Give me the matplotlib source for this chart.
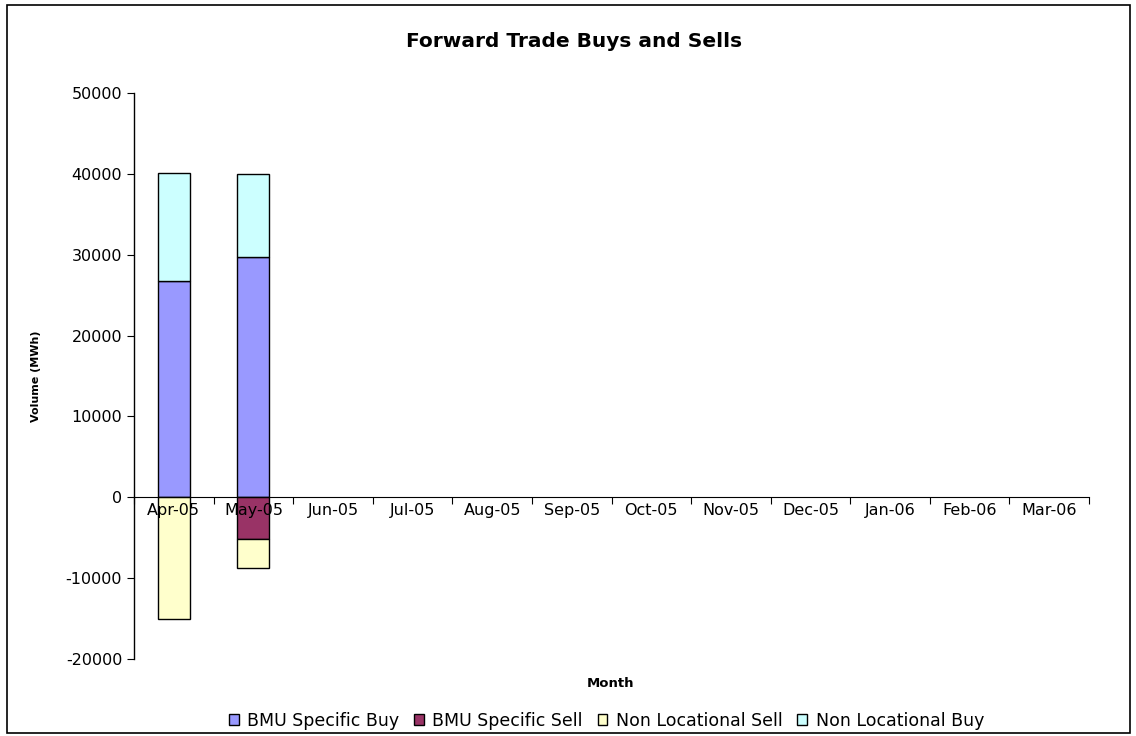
import numpy as np
import matplotlib.pyplot as plt
from matplotlib.patches import Rectangle

plt.rcParams['font.family'] = ['DejaVu Sans']
plt.rcParams['axes.unicode_minus'] = False

months = ['Apr-05', 'May-05', 'Jun-05', 'Jul-05', 'Aug-05', 'Sep-05',
          'Oct-05', 'Nov-05', 'Dec-05', 'Jan-06', 'Feb-06', 'Mar-06']
bmu_buy = [26700, 29700, 0, 0, 0, 0, 0, 0, 0, 0, 0, 0]
bmu_sell = [0, -5200, 0, 0, 0, 0, 0, 0, 0, 0, 0, 0]
nl_sell = [-15000, -3600, 0, 0, 0, 0, 0, 0, 0, 0, 0, 0]
nl_buy = [13400, 10300, 0, 0, 0, 0, 0, 0, 0, 0, 0, 0]

fig = plt.figure(figsize=(11.36, 7.36), dpi=100)
ax = fig.add_axes([0.118, 0.1046, 0.8406, 0.769])

x = np.arange(len(months))
w = 0.4
kw = dict(width=w, edgecolor='black', linewidth=1)
show = np.array(bmu_buy) != 0
ax.bar(x[show], np.array(bmu_buy)[show], color='#9999FF', label='BMU Specific Buy', **kw)
show = np.array(bmu_sell) != 0
ax.bar(x[show], np.array(bmu_sell)[show], color='#993366', label='BMU Specific Sell', **kw)
show = np.array(nl_sell) != 0
ax.bar(x[show], np.array(nl_sell)[show], bottom=np.array(bmu_sell)[show], color='#FFFFCC',
       label='Non Locational Sell', **kw)
show = np.array(nl_buy) != 0
ax.bar(x[show], np.array(nl_buy)[show], bottom=np.array(bmu_buy)[show], color='#CCFFFF',
       label='Non Locational Buy', **kw)

ax.set_xlim(-0.5, len(months) - 0.5)
ax.set_ylim(-20000, 50000)
ax.set_yticks(np.arange(-20000, 50001, 10000))
ax.tick_params(axis='y', labelsize=11.5, length=5, direction='out')

ax.spines['top'].set_visible(False)
ax.spines['right'].set_visible(False)
ax.spines['bottom'].set_position(('data', 0))
ax.spines['left'].set_linewidth(1)

# ticks between months, labels centred on the bars
ax.set_xticks(np.arange(-0.5, len(months), 1))
ax.set_xticklabels([])
ax.set_xticks(x, minor=True)
ax.set_xticklabels(months, minor=True)
ax.tick_params(axis='x', which='major', length=5, direction='out')
ax.tick_params(axis='x', which='minor', length=0, labelsize=11.5, pad=4)

fig.text(0.505, 0.943, 'Forward Trade Buys and Sells', ha='center', va='center',
         fontsize=14.5, fontweight='bold')
ax.set_ylabel('Volume (MWh)', fontsize=8, fontweight='bold', labelpad=18)
fig.text(0.5378, 0.071, 'Month', ha='center', va='center', fontsize=9.5, fontweight='bold')

ax.legend(loc='center', bbox_to_anchor=(0.534, 0.021), bbox_transform=fig.transFigure,
          ncol=4, frameon=False, fontsize=12.5, handlelength=0.55, handleheight=0.55,
          handletextpad=0.5, columnspacing=0.85)

fig.patches.append(Rectangle((0.006, 0.004), 0.989, 0.989, transform=fig.transFigure,
                             fill=False, edgecolor='black', linewidth=1.2))

fig.savefig('out.png', dpi=100)
